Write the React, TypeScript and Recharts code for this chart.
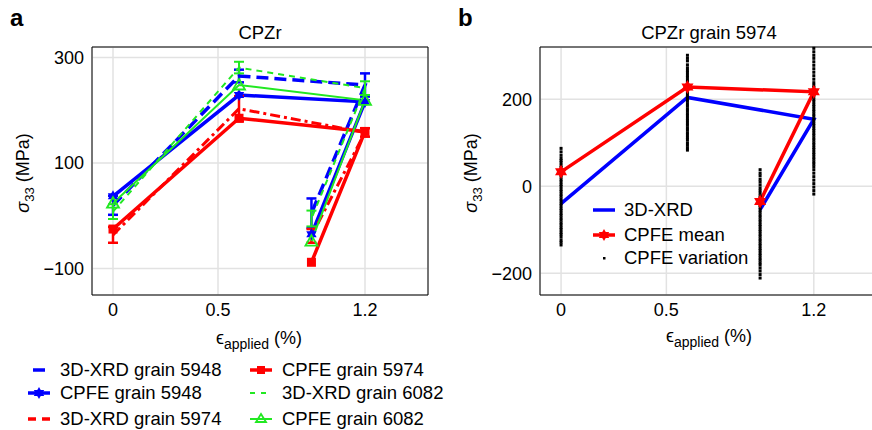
import React from "react";
import {
  ComposedChart,
  Line,
  Scatter,
  XAxis,
  YAxis,
  CartesianGrid,
  ReferenceLine,
  ErrorBar,
} from "recharts";

const FONT = "'Liberation Sans', Arial, sans-serif";
const BLUE = "#0000ff";
const RED = "#ff0000";
const GREEN = "#22e822";

// panel a: CPZr, load path 0 -> 0.6 -> 1.2 -> unload
const strainA = [0, 0.6, 1.2, 0.945];
const xrd5948 = [20, 265, 248, 5];
const xrd5948Err = [18, 12, 22, 28];
const cpfe5948 = [37, 229, 216, -35];
const xrd5974 = [-36, 203, 158, -38];
const xrd5974Err = [15, 24, 8, 13];
const cpfe5974 = [-25, 185, 160, -88];
const xrd6082 = [8, 281, 242, -5];
const xrd6082Err = [14, 11, 13, 15];
const cpfe6082 = [24, 248, 219, -48];

// panel b: CPZr grain 5974
const strainB = [0, 0.6, 1.2, 0.945];
const xrdMean = [-40, 204, 154, -54];
const cpfeMean = [33, 228, 217, -35];

// CPFE variation, read column by column
const var0 = [87, 79, 71, 64, 59, 54, 48, 43, 37, 32, 26, 21, 15, 10, 4, -1, -7, -12, -18, -23, -29, -34, -40, -45, -51, -56, -62, -67, -73, -78, -84, -89, -95, -100, -106, -111, -117, -124, -129, -135];
const var1 = [301, 294, 288, 279, 272, 266, 261, 255, 250, 244, 239, 233, 228, 222, 217, 211, 206, 200, 195, 189, 184, 178, 173, 167, 162, 156, 151, 145, 140, 134, 129, 123, 118, 112, 107, 100, 94, 88, 83];
const var2 = [38, 30, 24, 16, 10, 3, -4, -10, -16, -22, -27, -33, -38, -44, -49, -55, -60, -66, -71, -77, -82, -88, -93, -99, -104, -110, -115, -121, -126, -132, -137, -143, -148, -154, -159, -165, -170, -176, -181, -188, -195, -203, -211];
const var3 = [317, 309, 301, 294, 286, 278, 270, 262, 254, 246, 238, 232, 227, 221, 216, 210, 205, 199, 194, 188, 183, 177, 172, 166, 161, 155, 150, 144, 139, 133, 128, 122, 117, 111, 106, 100, 95, 89, 84, 78, 73, 67, 62, 56, 51, 45, 38, 30, 22, 14, 6, -2, -10, -18];

const tableA = strainA.map((x, i) => ({
  x,
  xrd5948: xrd5948[i],
  xrd5948Err: xrd5948Err[i],
  cpfe5948: cpfe5948[i],
  xrd5974: xrd5974[i],
  xrd5974Err: xrd5974Err[i],
  cpfe5974: cpfe5974[i],
  xrd6082: xrd6082[i],
  xrd6082Err: xrd6082Err[i],
  cpfe6082: cpfe6082[i],
}));

const tableB = strainB.map((x, i) => ({ x, xrd: xrdMean[i], cpfe: cpfeMean[i] }));

const variation = [
  ...var0.map((y) => ({ x: 0, y })),
  ...var1.map((y) => ({ x: 0.6, y })),
  ...var2.map((y) => ({ x: 0.945, y })),
  ...var3.map((y) => ({ x: 1.2, y })),
];

const fmt = (v: number) => (v < 0 ? `\u2212${Math.abs(v)}` : `${v}`);
const tickStyle = { fill: "#000", fontSize: 18, fontFamily: FONT };

function hexPaths(cx: number, cy: number, r: number, color: string) {
  const a = r * 0.866;
  const b = r / 2;
  return (
    <>
      <path d={`M${cx},${cy - r}L${cx + a},${cy + b}L${cx - a},${cy + b}Z`} fill={color} />
      <path d={`M${cx},${cy + r}L${cx + a},${cy - b}L${cx - a},${cy - b}Z`} fill={color} />
    </>
  );
}

const hexDot = (r: number, color: string) => (p: any) => (
  <g key={`h-${color}-${p.index}`}>{hexPaths(p.cx, p.cy, r, color)}</g>
);

const squareDot = (p: any) => (
  <rect key={`s-${p.index}`} x={p.cx - 4.5} y={p.cy - 4.5} width={9} height={9} fill={RED} />
);

const triDot = (p: any) => (
  <path
    key={`t-${p.index}`}
    d={`M${p.cx},${p.cy - 6}L${p.cx + 6},${p.cy + 4.5}L${p.cx - 6},${p.cy + 4.5}Z`}
    fill="none"
    stroke={GREEN}
    strokeWidth={1.8}
  />
);

const varDot = (p: any) => (
  <rect x={p.cx - 1.5} y={p.cy - 1.5} width={3} height={3} fill="#000" />
);

const legendA = [
  { label: "3D-XRD grain 5948", color: BLUE, dash: "0 5 12 20", w: 3.5, marker: "", x: 28, y: 370 },
  { label: "CPFE grain 5948", color: BLUE, dash: "", w: 3.5, marker: "hex", x: 28, y: 393 },
  { label: "3D-XRD grain 5974", color: RED, dash: "8 6", w: 3.5, marker: "", x: 28, y: 419 },
  { label: "CPFE grain 5974", color: RED, dash: "", w: 3.5, marker: "square", x: 250, y: 370 },
  { label: "3D-XRD grain 6082", color: GREEN, dash: "5 6", w: 2, marker: "", x: 250, y: 393 },
  { label: "CPFE grain 6082", color: GREEN, dash: "", w: 2, marker: "tri", x: 250, y: 419 },
];

function Sample({ color, dash, w, marker }: any) {
  return (
    <svg width={24} height={16} style={{ overflow: "visible" }}>
      <line x1={0} y1={8} x2={22} y2={8} stroke={color} strokeWidth={w} strokeDasharray={dash || undefined} />
      {marker === "hex" && hexPaths(11, 8, 6, color)}
      {marker === "square" && <rect x={7} y={4} width={8} height={8} fill={color} />}
      {marker === "tri" && <path d="M11,3L16,11L6,11Z" fill="none" stroke={color} strokeWidth={1.8} />}
    </svg>
  );
}

const abs = (left: number, top: number, extra: any = {}) => ({
  position: "absolute" as const,
  left,
  top,
  whiteSpace: "nowrap" as const,
  ...extra,
});

function YLabel({ x }: { x: number }) {
  return (
    <div style={abs(x, 173, { fontSize: 18, transform: "translate(-50%, -50%) rotate(-90deg)" })}>
      <i>σ</i>
      <sub style={{ fontSize: 13 }}>33</sub> (MPa)
    </div>
  );
}

function XLabel({ x, y }: { x: number; y: number }) {
  return (
    <div style={abs(x, y, { fontSize: 18, transform: "translate(-50%, -50%)" })}>
      ϵ<sub style={{ fontSize: 14 }}>applied</sub> (%)
    </div>
  );
}

export default function App() {
  return (
    <div
      style={{
        position: "absolute",
        left: 0,
        top: 0,
        width: 872,
        height: 430,
        overflow: "hidden",
        background: "#fff",
        fontFamily: FONT,
        color: "#000",
      }}
    >
      <div style={abs(10, 4, { fontSize: 24, fontWeight: "bold" })}>a</div>
      <div style={abs(458, 4, { fontSize: 24, fontWeight: "bold" })}>b</div>
      <div style={abs(260, 33, { fontSize: 18.5, transform: "translate(-50%, -50%)" })}>CPZr</div>
      <div style={abs(709, 33, { fontSize: 18.5, transform: "translate(-50%, -50%)" })}>CPZr grain 5974</div>

      <div style={abs(0, 0)}>
        <ComposedChart width={440} height={330} data={tableA} margin={{ top: 47, right: 12, bottom: 5, left: 32 }}>
          <CartesianGrid stroke="#e2e2e2" strokeWidth={1.5} />
          <XAxis
            dataKey="x"
            type="number"
            domain={[-0.1, 1.5]}
            ticks={[0, 0.5, 1.2]}
            tick={tickStyle}
            tickLine={false}
            axisLine={{ stroke: "#000" }}
            height={30}
          />
          <YAxis
            type="number"
            domain={[-150, 320]}
            ticks={[-100, 100, 300]}
            tickFormatter={fmt}
            tick={tickStyle}
            tickLine={false}
            axisLine={{ stroke: "#000" }}
            width={60}
          />
          <ReferenceLine y={320} stroke="#000" />
          <ReferenceLine x={1.5} stroke="#000" />
          <Line dataKey="xrd5948" stroke={BLUE} strokeWidth={3.5} strokeDasharray="12 6" dot={false} isAnimationActive={false}>
            <ErrorBar dataKey="xrd5948Err" width={5} stroke={BLUE} strokeWidth={2.5} />
          </Line>
          <Line dataKey="cpfe5948" stroke={BLUE} strokeWidth={3.5} dot={hexDot(6, BLUE)} isAnimationActive={false} />
          <Line dataKey="xrd5974" stroke={RED} strokeWidth={3} strokeDasharray="10 4 3 4" dot={false} isAnimationActive={false}>
            <ErrorBar dataKey="xrd5974Err" width={5} stroke={RED} strokeWidth={2.5} />
          </Line>
          <Line dataKey="cpfe5974" stroke={RED} strokeWidth={3.5} dot={squareDot} isAnimationActive={false} />
          <Line dataKey="xrd6082" stroke={GREEN} strokeWidth={2} strokeDasharray="6 5" dot={false} isAnimationActive={false}>
            <ErrorBar dataKey="xrd6082Err" width={5} stroke={GREEN} strokeWidth={2} />
          </Line>
          <Line dataKey="cpfe6082" stroke={GREEN} strokeWidth={2} dot={triDot} isAnimationActive={false} />
        </ComposedChart>
      </div>

      <div style={abs(440, 0)}>
        <ComposedChart width={450} height={330} data={tableB} margin={{ top: 47, right: 13, bottom: 5, left: 40 }}>
          <CartesianGrid stroke="#e2e2e2" strokeWidth={1.5} />
          <XAxis
            dataKey="x"
            type="number"
            domain={[-0.1, 1.5]}
            ticks={[0, 0.5, 1.2]}
            tick={tickStyle}
            tickLine={false}
            axisLine={{ stroke: "#000" }}
            height={30}
          />
          <YAxis
            type="number"
            domain={[-250, 320]}
            ticks={[-200, 0, 200]}
            tickFormatter={fmt}
            tick={tickStyle}
            tickLine={false}
            axisLine={{ stroke: "#000" }}
            width={60}
          />
          <ReferenceLine y={320} stroke="#000" />
          <Line dataKey="xrd" stroke={BLUE} strokeWidth={3.5} dot={false} isAnimationActive={false} />
          <Scatter data={variation} dataKey="y" shape={varDot} isAnimationActive={false} />
          <Line dataKey="cpfe" stroke={RED} strokeWidth={3.5} dot={hexDot(7, RED)} isAnimationActive={false} />
        </ComposedChart>
      </div>

      <YLabel x={25} />
      <YLabel x={473} />
      <XLabel x={259} y={340} />
      <XLabel x={709} y={338} />

      {legendA.map((e) => (
        <div key={e.label} style={abs(e.x, e.y, { transform: "translateY(-50%)", display: "flex", alignItems: "center", fontSize: 18.5 })}>
          <Sample {...e} />
          <span style={{ marginLeft: 8 }}>{e.label}</span>
        </div>
      ))}

      <div style={abs(593, 210, { transform: "translateY(-50%)", display: "flex", alignItems: "center", fontSize: 18.5 })}>
        <Sample color={BLUE} w={3.5} dash="" marker="" />
        <span style={{ marginLeft: 7 }}>3D-XRD</span>
      </div>
      <div style={abs(593, 235, { transform: "translateY(-50%)", display: "flex", alignItems: "center", fontSize: 18.5 })}>
        <Sample color={RED} w={3.5} dash="" marker="hex" />
        <span style={{ marginLeft: 7 }}>CPFE mean</span>
      </div>
      <div style={abs(593, 258, { transform: "translateY(-50%)", display: "flex", alignItems: "center", fontSize: 18.5 })}>
        <svg width={24} height={16}>
          <rect x={10} y={7} width={2.5} height={2.5} fill="#000" />
        </svg>
        <span style={{ marginLeft: 7 }}>CPFE variation</span>
      </div>
    </div>
  );
}
